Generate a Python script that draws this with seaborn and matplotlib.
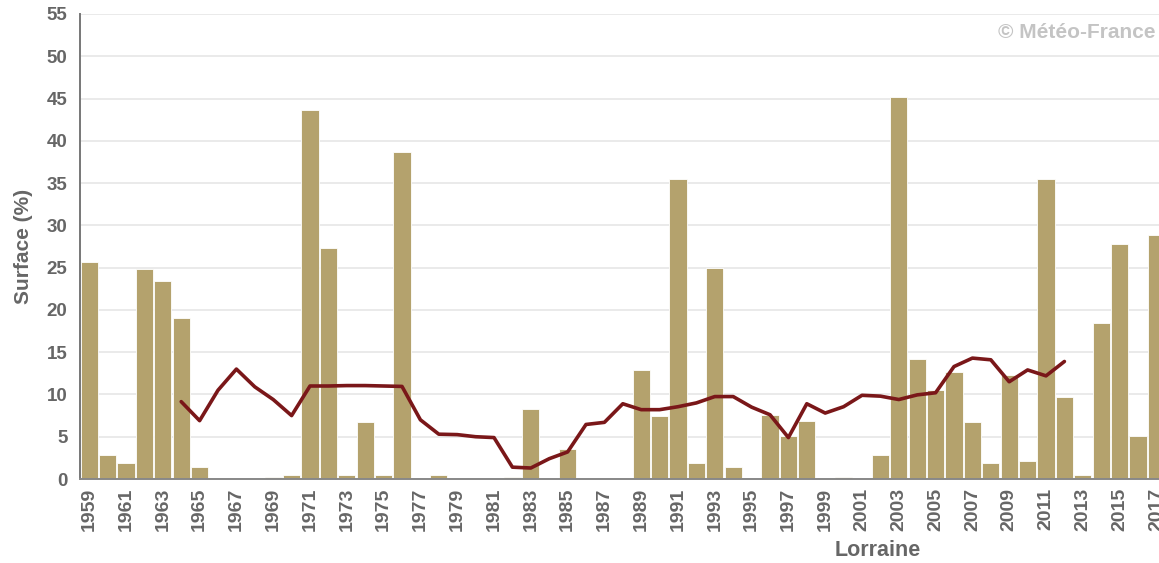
import matplotlib
import numpy as np
import pandas as pd
import seaborn as sns

matplotlib.use("Agg")
import matplotlib.pyplot as plt

# yearly surface share (%) for Lorraine, 1959-2017
years = list(range(1959, 2018))
surface = [
    25.7, 2.8, 1.9, 24.8, 23.4, 19.1, 1.4, 0.0, 0.0, 0.0,
    0.2, 0.5, 43.6, 27.3, 0.5, 6.7, 0.5, 38.7, 0.0, 0.5,
    0.0, 0.0, 0.0, 0.2, 8.3, 0.0, 3.6, 0.0, 0.0, 0.0,
    12.9, 7.4, 35.5, 1.9, 25.0, 1.4, 0.0, 7.6, 5.1, 6.9,
    0.0, 0.2, 0.0, 2.8, 45.2, 14.2, 10.5, 12.6, 6.7, 1.9,
    12.3, 2.1, 35.5, 9.7, 0.5, 18.4, 27.8, 5.1, 28.9,
]

# smoothed curve, 1964-2012
trend_years = list(range(1964, 2013))
trend = [
    9.15, 6.9, 10.5, 13.0, 10.9, 9.4, 7.5, 11.0, 11.0, 11.05,
    11.05, 11.0, 10.95, 7.0, 5.3, 5.25, 5.0, 4.9, 1.4, 1.3,
    2.4, 3.2, 6.45, 6.7, 8.9, 8.2, 8.2, 8.55, 9.0, 9.75,
    9.75, 8.5, 7.6, 4.9, 8.9, 7.8, 8.55, 9.9, 9.8, 9.4,
    9.95, 10.2, 13.3, 14.3, 14.1, 11.5, 12.9, 12.2, 13.9,
]

BAR_COLOR = "#b4a26d"
LINE_COLOR = "#7a1719"
TEXT_COLOR = "#666666"


def main() -> None:
    sns.set_theme(style="white")
    plt.rcParams["font.family"] = ["Liberation Sans", "DejaVu Sans"]

    df = pd.DataFrame({"year": [str(y) for y in years], "surface": surface})
    pos = {str(y): i for i, y in enumerate(years)}
    tr = pd.DataFrame({"x": [pos[str(y)] for y in trend_years], "trend": trend})

    fig = plt.figure(figsize=(11.59, 5.63), dpi=100)
    W, H = 1159, 563
    left, right, top, bottom = 80, 80 + 59 * 18.4, 14, 479
    ax = fig.add_axes([left / W, 1 - bottom / H, (right - left) / W, (bottom - top) / H])

    sns.barplot(
        data=df, x="year", y="surface", order=df["year"], color=BAR_COLOR,
        width=0.94, edgecolor="white", linewidth=0.6, saturation=1, ax=ax,
    )
    sns.lineplot(data=tr, x="x", y="trend", color=LINE_COLOR, linewidth=2.6, ax=ax)
    for ln in ax.lines:
        ln.set_solid_joinstyle("round")
        ln.set_solid_capstyle("round")

    ax.set_xlim(-0.5, len(years) - 0.5)
    ax.set_ylim(0, 55)
    ax.set_yticks(np.arange(0, 56, 5))
    ax.yaxis.grid(True, color="#e6e6e6", linewidth=1.2)
    ax.set_axisbelow(True)

    ax.set_xticks(range(0, len(years), 2))
    ax.set_xticklabels([str(y) for y in years[::2]], rotation=90)
    ax.tick_params(axis="x", length=0, pad=6.5, labelsize=14, labelcolor=TEXT_COLOR)
    ax.tick_params(axis="y", length=0, pad=9, labelsize=13.5, labelcolor=TEXT_COLOR)
    for lab in ax.get_xticklabels() + ax.get_yticklabels():
        lab.set_fontweight("bold")

    for s in ["top", "right"]:
        ax.spines[s].set_visible(False)
    ax.spines["left"].set_color("#777777")
    ax.spines["left"].set_linewidth(1.4)
    ax.spines["bottom"].set_color("#888888")
    ax.spines["bottom"].set_linewidth(1.4)

    ax.set_ylabel("Surface (%)", fontsize=15, fontweight="bold", color=TEXT_COLOR)
    ax.yaxis.set_label_coords(-47 / (right - left), 0.5)
    ax.set_xlabel("Lorraine", fontsize=15.5, fontweight="bold", color=TEXT_COLOR)
    ax.xaxis.set_label_coords((878 - left) / (right - left), -(551 - bottom) / (bottom - top))
    ax.xaxis.label.set_verticalalignment("center")

    fig.text(1155 / W, 1 - 33 / H, "© Météo-France", ha="right", va="center",
             fontsize=15, fontweight="bold", color="#c4c4c4")

    fig.savefig("out.png", dpi=100)
    plt.close(fig)


if __name__ == "__main__":
    main()
